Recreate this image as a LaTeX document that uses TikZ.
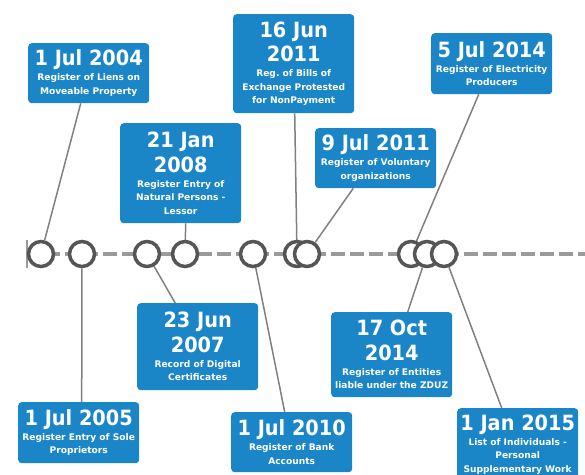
\documentclass[tikz,border=0pt]{standalone}
\usepackage{fontspec}
\setmainfont{DejaVu Sans}
\newfontfamily\ttlfont{DejaVu Sans}[FakeStretch=0.92]
\usetikzlibrary{backgrounds}
\definecolor{boxblue}{HTML}{1A86C8}
\definecolor{circgray}{HTML}{555555}
\definecolor{linegray}{HTML}{808080}
\definecolor{dashgray}{HTML}{9A9A9A}
\newcommand\ttl[1]{{\ttlfont\bfseries\fontsize{21}{21}\selectfont #1}}
\newcommand\subsetup{\bfseries\fontsize{9.1}{13.5}\selectfont\lineskiplimit=-100pt\relax}
\frenchspacing
\begin{document}
\begin{tikzpicture}[x=1pt,y=-1pt,
  evbox/.style={fill=boxblue, rounded corners=3.5pt, text=white, align=center,
    minimum width=121pt, inner sep=1pt, anchor=north west,
    font=\subsetup},
  ev/.style={circle, draw=circgray, line width=3.5pt, fill=white, minimum size=25pt, inner sep=0pt},
  conn/.style={draw=linegray, line width=1.5pt},
  timeline/.style={draw=dashgray, line width=4pt, dash pattern=on 14pt off 5pt},
  tickline/.style={draw=dashgray, line width=2pt}]
\useasboundingbox (0,0) rectangle (585,474);
\clip (0,0) rectangle (585,474);
% circles
\node[ev] (c1) at (41,254) {};
\node[ev] (c2) at (82,254) {};
\node[ev] (c3) at (147,254) {};
\node[ev] (c4) at (185,254) {};
\node[ev] (c5) at (253,254) {};
\node[ev] (c6) at (297,254) {};
\node[ev] (c7) at (307,254) {};
\node[ev] (c8) at (411,254) {};
\node[ev] (c9) at (427,254) {};
\node[ev] (c10) at (444,254) {};
% boxes
\node[evbox, minimum height=60pt] (b1) at (28,43) {\ttl{1 Jul 2004}\\[1.5pt]Register of Liens on\\Moveable Property};
\node[evbox, minimum height=100pt] (b2) at (120,123) {\ttl{21 Jan}\\[11pt]\ttl{2008}\\[1.5pt]Register Entry of\\Natural Persons -\\Lessor};
\node[evbox, minimum height=99pt] (b3) at (233,14) {\ttl{16 Jun}\\[11pt]\ttl{2011}\\[1.5pt]Reg. of Bills of\\Exchange Protested\\for NonPayment};
\node[evbox, minimum height=60pt] (b4) at (315,128) {\ttl{9 Jul 2011}\\[1.5pt]Register of Voluntary\\organizations};
\node[evbox, minimum height=61pt] (b5) at (431,33) {\ttl{5 Jul 2014}\\[1.5pt]Register of Electricity\\Producers};
\node[evbox, minimum height=61pt] (b6) at (18,402) {\ttl{1 Jul 2005}\\[1.5pt]Register Entry of Sole\\Proprietors};
\node[evbox, minimum height=87pt] (b7) at (137,303) {\ttl{23 Jun}\\[11pt]\ttl{2007}\\[1.5pt]Record of Digital\\Certificates};
\node[evbox, minimum height=60pt] (b8) at (231,412) {\ttl{1 Jul 2010}\\[1.5pt]Register of Bank\\Accounts};
\node[evbox, minimum height=85pt] (b9) at (331,312) {\ttl{17 Oct}\\[11pt]\ttl{2014}\\[1.5pt]Register of Entities\\liable under the ZDUZ};
\node[evbox, minimum height=72pt] (b10) at (457,408) {\ttl{1 Jan 2015}\\[1.5pt]List of Individuals -\\Personal\\Supplementary Work};
\begin{scope}[on background layer]
  \coordinate (tlstart) at (27,254);
  \coordinate (tlend) at (590,254);
  \coordinate (ticktop) at (27,240);
  \coordinate (tickbot) at (27,268);
  \draw[timeline] (tlstart) -- (tlend);
  \draw[tickline] (ticktop) -- (tickbot);
  \draw[conn] ([xshift=-8pt]b1.south) -- (c1);
  \draw[conn] ([xshift=5pt]b2.south) -- (c4);
  \draw[conn] ([xshift=1pt]b3.south) -- (c6);
  \draw[conn] ([xshift=-22.5pt]b4.south) -- (c7);
  \draw[conn] ([xshift=-13pt]b5.south) -- (c8);
  \draw[conn] (c2) -- ([xshift=3pt]b6.north);
  \draw[conn] (c3) -- ([xshift=-22.5pt]b7.north);
  \draw[conn] (c5) -- ([xshift=-7pt]b8.north);
  \draw[conn] (c9) -- ([xshift=16pt]b9.north);
  \draw[conn] (c10) -- ([xshift=-16pt]b10.north);
\end{scope}
\end{tikzpicture}
\end{document}
